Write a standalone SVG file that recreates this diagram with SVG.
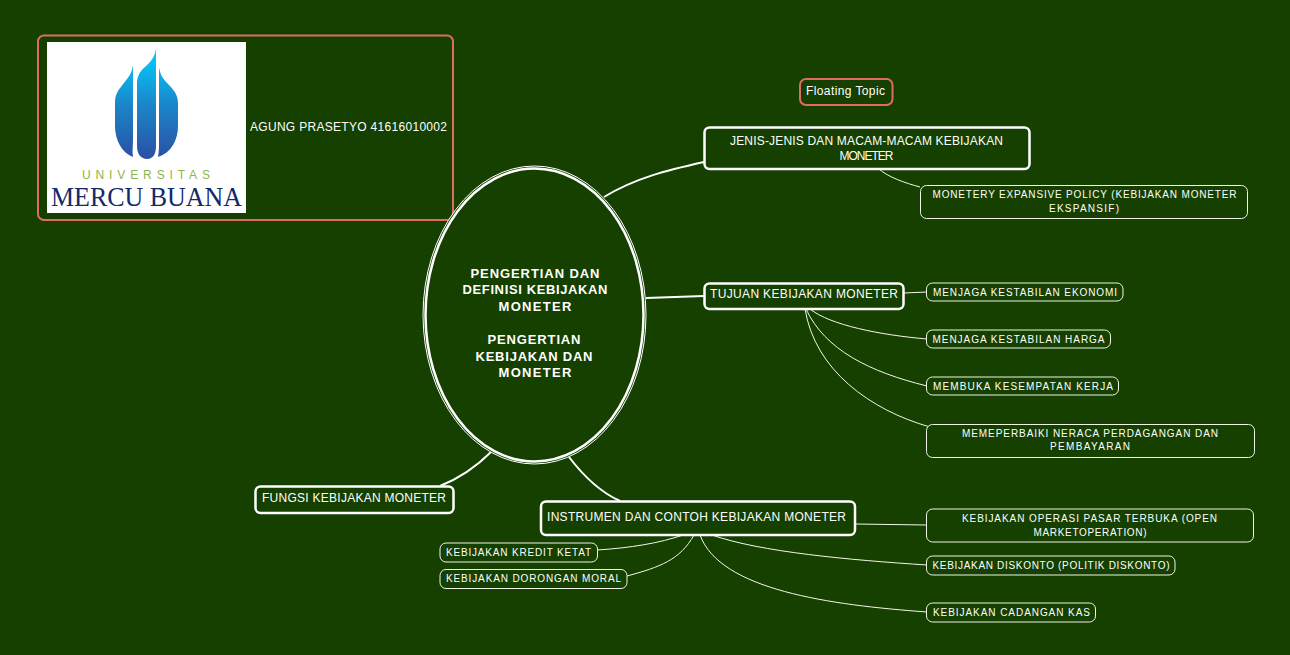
<svg xmlns="http://www.w3.org/2000/svg" width="1290" height="655" viewBox="0 0 1290 655">
<defs>
<style>
text{font-family:"Liberation Sans",Arial,sans-serif;fill:#fff;text-anchor:middle;dominant-baseline:auto}
.box{fill:#154000;stroke:#fff}
.main{stroke-width:2.5}
.sub{stroke-width:1;stroke:#f0f5e8}
.float{stroke:#e06a66;stroke-width:2}
.t12{font-size:12px}
.t10{font-size:10px}
.b13{font-size:13px;font-weight:bold}
.c1{fill:none;stroke:#fff;stroke-width:2}
.c2{fill:none;stroke:#f3f7ea;stroke-width:1}
</style>
<linearGradient id="flame" gradientUnits="userSpaceOnUse" x1="0" y1="49" x2="0" y2="159">
<stop offset="0.12" stop-color="#08c0f5"/>
<stop offset="0.5" stop-color="#1a87cb"/>
<stop offset="1" stop-color="#2b4fa2"/>
</linearGradient>
</defs>
<rect width="1290" height="655" fill="#154000"/>
<g id="connectors">
<path class="c1" d="M604 197C635 178 668 170 704 162"/>
<path class="c1" d="M646 298L704 296"/>
<path class="c1" d="M569 457C585 478 600 492 620 501"/>
<path class="c1" d="M491 452C475 468 460 478 440 486"/>
<path class="c2" d="M879 169C888 177 905 183 920 187"/>
<path class="c2" d="M904 293L927 292"/>
<path class="c2" d="M810 309C830 325 880 335 927 339"/>
<path class="c2" d="M806 309C825 350 870 372 927 386"/>
<path class="c2" d="M805 309C815 370 870 410 930 427"/>
<path class="c2" d="M683 535C660 543 630 548 597 550"/>
<path class="c2" d="M694 535C680 560 660 567 627 576"/>
<path class="c2" d="M855 524L927 525"/>
<path class="c2" d="M712 535C760 552 850 560 927 565"/>
<path class="c2" d="M700 535C720 590 830 605 927 612"/>
</g>
<g id="node-author">
<rect class="box float" x="38" y="35.500" width="415" height="184.500" rx="6"/>
<rect x="47" y="42" width="199" height="171" fill="#fff"/>
<path fill="url(#flame)" d="M133 65C132 73 128 78 124 83C119 89 115 94 115 102L115 126C115 140 122 153 133 157C132 152 133 146 133 140Z"/>
<path fill="url(#flame)" d="M156 49C155 56 151 62 145 67C140 71 137 76 137 84L137 146C137 154 141 159 147 159C153 159 156 154 156 146Z"/>
<path fill="url(#flame)" d="M159 67C160 75 164 80 169 85C175 91 178 96 178 104L178 126C178 140 171 153 158 157C159 152 159 146 159 140Z"/>
<text x="146" y="179" font-size="12" style="fill:#8db54e" textLength="128" lengthAdjust="spacing">UNIVERSITAS</text>
<text x="146.500" y="206" font-size="28" style="font-family:'Liberation Serif',serif;fill:#12296b" textLength="191" lengthAdjust="spacingAndGlyphs">MERCU BUANA</text>
<text class="t12" x="348.500" y="131" textLength="197" lengthAdjust="spacing">AGUNG PRASETYO 41616010002</text>
</g>
<g id="node-floating">
<rect class="box float" x="800" y="79" width="92.500" height="26" rx="6"/>
<text class="t12" x="845.500" y="95" textLength="79" lengthAdjust="spacing">Floating Topic</text>
</g>
<g id="node-center">
<ellipse cx="534.500" cy="315" rx="111.500" ry="149" fill="#154000" stroke="#fff" stroke-width="1"/>
<ellipse cx="534.500" cy="315" rx="109" ry="146.500" fill="#154000" stroke="#fff" stroke-width="2.500"/>
<text class="b13" x="535" y="278" textLength="129" lengthAdjust="spacing">PENGERTIAN DAN</text>
<text class="b13" x="535" y="294" textLength="145" lengthAdjust="spacing">DEFINISI KEBIJAKAN</text>
<text class="b13" x="535" y="311" textLength="73" lengthAdjust="spacing">MONETER</text>
<text class="b13" x="534" y="344" textLength="93" lengthAdjust="spacing">PENGERTIAN</text>
<text class="b13" x="534" y="361" textLength="117" lengthAdjust="spacing">KEBIJAKAN DAN</text>
<text class="b13" x="535" y="377" textLength="73" lengthAdjust="spacing">MONETER</text>
</g>
<g id="node-jenis">
<rect class="box main" x="704.500" y="127.500" width="325" height="41.500" rx="5"/>
<text class="t12" x="866.500" y="145" textLength="273" lengthAdjust="spacing">JENIS-JENIS DAN MACAM-MACAM KEBIJAKAN</text>
<text class="t12" x="866.500" y="160" textLength="54" lengthAdjust="spacing">MONETER</text>
</g>
<g id="node-monetery">
<rect class="box sub" x="920.500" y="185.500" width="327" height="33" rx="6"/>
<text class="t10" x="1084.500" y="198" textLength="304" lengthAdjust="spacing">MONETERY EXPANSIVE POLICY (KEBIJAKAN MONETER</text>
<text class="t10" x="1084" y="212" textLength="70" lengthAdjust="spacing">EKSPANSIF)</text>
</g>
<g id="node-tujuan">
<rect class="box main" x="704.500" y="283.500" width="199" height="25.500" rx="5"/>
<text class="t12" x="804" y="298" textLength="188" lengthAdjust="spacing">TUJUAN KEBIJAKAN MONETER</text>
</g>
<g id="node-ekonomi">
<rect class="box sub" x="926.500" y="283" width="196.500" height="18" rx="6"/>
<text class="t10" x="1025" y="296" textLength="184" lengthAdjust="spacing">MENJAGA KESTABILAN EKONOMI</text>
</g>
<g id="node-harga">
<rect class="box sub" x="926.500" y="330" width="184" height="18" rx="6"/>
<text class="t10" x="1018.500" y="343" textLength="172" lengthAdjust="spacing">MENJAGA KESTABILAN HARGA</text>
</g>
<g id="node-kerja">
<rect class="box sub" x="926.500" y="377" width="192" height="18" rx="6"/>
<text class="t10" x="1023" y="390" textLength="180" lengthAdjust="spacing">MEMBUKA KESEMPATAN KERJA</text>
</g>
<g id="node-neraca">
<rect class="box sub" x="926.500" y="424.500" width="328" height="33" rx="6"/>
<text class="t10" x="1090" y="437" textLength="256" lengthAdjust="spacing">MEMEPERBAIKI NERACA PERDAGANGAN DAN</text>
<text class="t10" x="1090" y="450" textLength="80" lengthAdjust="spacing">PEMBAYARAN</text>
</g>
<g id="node-fungsi">
<rect class="box main" x="255.500" y="486.500" width="198" height="26.500" rx="5"/>
<text class="t12" x="354" y="502" textLength="184" lengthAdjust="spacing">FUNGSI KEBIJAKAN MONETER</text>
</g>
<g id="node-instrumen">
<rect class="box main" x="541" y="501.500" width="314" height="33.500" rx="5"/>
<text class="t12" x="696.500" y="521" textLength="299" lengthAdjust="spacing">INSTRUMEN DAN CONTOH KEBIJAKAN MONETER</text>
</g>
<g id="node-kredit">
<rect class="box sub" x="440" y="543" width="157.500" height="19" rx="6"/>
<text class="t10" x="518.500" y="556" textLength="145" lengthAdjust="spacing">KEBIJAKAN KREDIT KETAT</text>
</g>
<g id="node-moral">
<rect class="box sub" x="440" y="569.500" width="187" height="19" rx="6"/>
<text class="t10" x="533.500" y="582" textLength="175" lengthAdjust="spacing">KEBIJAKAN DORONGAN MORAL</text>
</g>
<g id="node-operasi">
<rect class="box sub" x="926.500" y="509" width="327" height="33" rx="6"/>
<text class="t10" x="1089.500" y="522" textLength="255" lengthAdjust="spacing">KEBIJAKAN OPERASI PASAR TERBUKA (OPEN</text>
<text class="t10" x="1090" y="536" textLength="113" lengthAdjust="spacing">MARKETOPERATION)</text>
</g>
<g id="node-diskonto">
<rect class="box sub" x="926.500" y="556" width="248.500" height="19" rx="6"/>
<text class="t10" x="1051" y="569" textLength="237" lengthAdjust="spacing">KEBIJAKAN DISKONTO (POLITIK DISKONTO)</text>
</g>
<g id="node-kas">
<rect class="box sub" x="926.500" y="603" width="169" height="19" rx="6"/>
<text class="t10" x="1011.500" y="616" textLength="157" lengthAdjust="spacing">KEBIJAKAN CADANGAN KAS</text>
</g>
</svg>
